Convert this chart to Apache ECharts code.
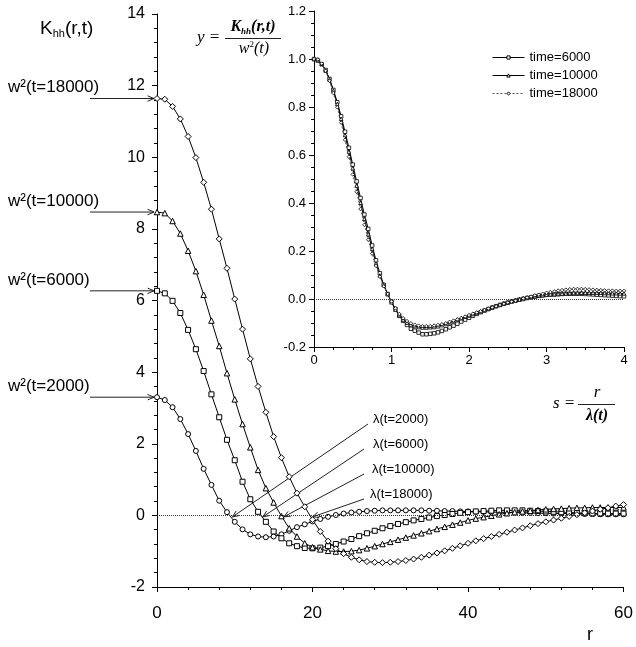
<!DOCTYPE html>
<html>
<head>
<meta charset="utf-8">
<script src="https://cdn.jsdelivr.net/npm/echarts@6/dist/echarts.min.js"></script>
<style>
  html, body { margin: 0; padding: 0; background: #fff; }
  #chart { width: 636px; height: 647px; }
</style>
</head>
<body>
<div id="chart"></div>
<script>
// main panel: K_hh(r,t) against r, one point per unit of r
const rValues = Array.from({ length: 61 }, (_, i) => i);
const k2000 = [3.30, 3.22, 3.02, 2.69, 2.27, 1.80, 1.30, 0.85, 0.41, 0.09, -0.18, -0.39, -0.53, -0.59, -0.61, -0.59, -0.53, -0.43, -0.33, -0.25, -0.17, -0.10, -0.04, 0.01, 0.05, 0.08, 0.10, 0.12, 0.13, 0.14, 0.14, 0.14, 0.14, 0.14, 0.14, 0.13, 0.13, 0.12, 0.12, 0.11, 0.11, 0.10, 0.10, 0.09, 0.09, 0.08, 0.08, 0.07, 0.07, 0.06, 0.06, 0.05, 0.05, 0.05, 0.04, 0.04, 0.04, 0.03, 0.03, 0.03, 0.03];
const k6000 = [6.27, 6.20, 5.99, 5.65, 5.18, 4.64, 4.03, 3.38, 2.74, 2.11, 1.54, 0.94, 0.45, 0.10, -0.18, -0.45, -0.64, -0.78, -0.86, -0.91, -0.92, -0.90, -0.86, -0.80, -0.73, -0.66, -0.58, -0.50, -0.43, -0.36, -0.30, -0.24, -0.19, -0.14, -0.10, -0.06, -0.02, 0.01, 0.04, 0.07, 0.09, 0.11, 0.12, 0.13, 0.14, 0.14, 0.14, 0.14, 0.13, 0.12, 0.11, 0.10, 0.09, 0.08, 0.07, 0.06, 0.05, 0.05, 0.05, 0.05, 0.05];
const k10000 = [8.47, 8.44, 8.22, 7.87, 7.39, 6.82, 6.16, 5.44, 4.73, 3.97, 3.24, 2.55, 1.90, 1.27, 0.76, 0.36, -0.02, -0.36, -0.59, -0.78, -0.89, -0.95, -0.99, -1.01, -1.01, -1.00, -0.97, -0.92, -0.86, -0.80, -0.74, -0.68, -0.62, -0.56, -0.50, -0.44, -0.38, -0.32, -0.26, -0.20, -0.14, -0.09, -0.05, -0.01, 0.03, 0.06, 0.09, 0.11, 0.13, 0.15, 0.17, 0.18, 0.19, 0.20, 0.21, 0.21, 0.22, 0.22, 0.22, 0.22, 0.22];
const k18000 = [11.64, 11.62, 11.42, 11.07, 10.58, 9.99, 9.30, 8.55, 7.72, 6.90, 6.04, 5.20, 4.37, 3.60, 2.88, 2.20, 1.61, 1.08, 0.62, 0.24, -0.12, -0.45, -0.72, -0.93, -1.07, -1.17, -1.24, -1.29, -1.31, -1.32, -1.31, -1.29, -1.26, -1.22, -1.17, -1.11, -1.05, -0.99, -0.92, -0.85, -0.78, -0.71, -0.65, -0.59, -0.53, -0.47, -0.41, -0.35, -0.29, -0.23, -0.18, -0.13, -0.08, -0.03, 0.02, 0.07, 0.12, 0.17, 0.21, 0.26, 0.30];
const w2Labels = ['w²(t=2000)', 'w²(t=6000)', 'w²(t=10000)', 'w²(t=18000)'];
const lambdaValues = [9.7, 13.6, 16.3, 20.0];
const lambdaLabels = ['λ(t=2000)', 'λ(t=6000)', 'λ(t=10000)', 'λ(t=18000)'];

// inset: y = K/w² against s = r/λ, step 0.05
const sValues = Array.from({ length: 81 }, (_, i) => i * 0.05);
const y6000 = [1.000, 0.993, 0.978, 0.954, 0.917, 0.871, 0.820, 0.761, 0.697, 0.630, 0.560, 0.490, 0.421, 0.352, 0.292, 0.223, 0.161, 0.107, 0.059, 0.021, -0.011, -0.041, -0.070, -0.091, -0.108, -0.124, -0.132, -0.140, -0.147, -0.147, -0.145, -0.143, -0.139, -0.133, -0.126, -0.118, -0.111, -0.103, -0.094, -0.086, -0.078, -0.070, -0.062, -0.055, -0.048, -0.042, -0.036, -0.030, -0.025, -0.020, -0.016, -0.011, -0.007, -0.003, 0.000, 0.004, 0.007, 0.010, 0.013, 0.015, 0.017, 0.018, 0.019, 0.020, 0.021, 0.022, 0.022, 0.022, 0.022, 0.022, 0.021, 0.020, 0.019, 0.018, 0.017, 0.016, 0.015, 0.014, 0.013, 0.012, 0.011];
const y10000 = [1.000, 0.998, 0.980, 0.952, 0.915, 0.868, 0.813, 0.751, 0.683, 0.614, 0.545, 0.472, 0.401, 0.334, 0.270, 0.209, 0.148, 0.098, 0.058, 0.020, -0.014, -0.045, -0.067, -0.086, -0.099, -0.108, -0.113, -0.117, -0.119, -0.119, -0.118, -0.117, -0.114, -0.109, -0.104, -0.098, -0.092, -0.086, -0.080, -0.074, -0.069, -0.063, -0.058, -0.052, -0.046, -0.040, -0.034, -0.029, -0.023, -0.017, -0.012, -0.008, -0.004, 0.000, 0.004, 0.007, 0.009, 0.012, 0.014, 0.016, 0.018, 0.019, 0.020, 0.021, 0.022, 0.023, 0.024, 0.025, 0.025, 0.026, 0.026, 0.026, 0.026, 0.026, 0.026, 0.025, 0.025, 0.024, 0.024, 0.023, 0.023];
const y18000 = [1.000, 0.998, 0.981, 0.951, 0.909, 0.858, 0.799, 0.735, 0.663, 0.593, 0.519, 0.447, 0.375, 0.309, 0.247, 0.189, 0.138, 0.093, 0.053, 0.021, -0.010, -0.039, -0.062, -0.080, -0.092, -0.101, -0.107, -0.111, -0.113, -0.113, -0.113, -0.111, -0.108, -0.105, -0.101, -0.095, -0.090, -0.085, -0.079, -0.073, -0.067, -0.061, -0.056, -0.051, -0.046, -0.040, -0.035, -0.030, -0.025, -0.020, -0.015, -0.011, -0.007, -0.003, 0.002, 0.006, 0.010, 0.015, 0.018, 0.022, 0.026, 0.029, 0.032, 0.035, 0.037, 0.039, 0.041, 0.042, 0.042, 0.042, 0.041, 0.040, 0.039, 0.038, 0.037, 0.036, 0.035, 0.035, 0.034, 0.034, 0.034];
const insetNames = ['time=6000', 'time=10000', 'time=18000'];

const SANS = "'Liberation Sans', Arial, sans-serif";
const SERIF = "'Liberation Serif', 'Times New Roman', serif";

const chart = echarts.init(document.getElementById('chart'));

function mainSeries(name, values, symbol, size) {
  return {
    name, type: 'line', xAxisIndex: 0, yAxisIndex: 0,
    data: rValues.map((r, i) => [r, values[i]]),
    symbol, symbolSize: size,
    lineStyle: { color: '#000', width: 1 },
    itemStyle: { color: '#fff', borderColor: '#000', borderWidth: 1 },
    z: 3,
  };
}

function insetSeries(name, values, symbol, lineStyle) {
  return {
    name, type: 'line', xAxisIndex: 1, yAxisIndex: 1,
    data: sValues.map((s, i) => [s, values[i]]),
    symbol, symbolSize: 3.5,
    lineStyle,
    itemStyle: { color: '#fff', borderColor: '#000', borderWidth: 0.8 },
    z: 3,
  };
}

function axisCommon(extra) {
  return Object.assign({
    type: 'value',
    axisLine: { show: true, onZero: false, lineStyle: { color: '#000', width: 1 } },
    axisTick: { show: true, length: 5, lineStyle: { color: '#000' } },
    splitLine: { show: false },
    minorSplitLine: { show: false },
  }, extra);
}

const minor = (n) => ({ show: true, splitNumber: n, length: 3, lineStyle: { color: '#000' } });

const zeroLine = {
  silent: true, symbol: 'none', label: { show: false },
  lineStyle: { type: 'dotted', color: '#333', width: 1 },
  data: [{ yAxis: 0 }],
};

const s2000 = mainSeries('m2000', k2000, 'circle', 5);
s2000.markLine = zeroLine;
const i6000 = insetSeries(insetNames[0], y6000, 'rect', { color: '#000', width: 1 });
i6000.markLine = zeroLine;

chart.setOption({
  animation: false,
  backgroundColor: '#fff',
  grid: [
    { left: 157, right: 11, top: 14, bottom: 60 },
    { left: 314, top: 11, width: 310, height: 336 },
  ],
  xAxis: [
    axisCommon({ gridIndex: 0, min: 0, max: 60, interval: 20, minorTick: minor(5),
      axisLabel: { fontSize: 17, margin: 18, color: '#000', fontFamily: SANS } }),
    axisCommon({ gridIndex: 1, min: 0, max: 4, interval: 1, minorTick: minor(4),
      axisLabel: { fontSize: 13, margin: 7, color: '#000', fontFamily: SANS } }),
  ],
  yAxis: [
    axisCommon({ gridIndex: 0, min: -2, max: 14, interval: 2, minorTick: minor(5),
      axisLabel: { fontSize: 16, margin: 12, color: '#000', fontFamily: SANS } }),
    axisCommon({ gridIndex: 1, min: -0.2, max: 1.2, interval: 0.2, minorTick: minor(4),
      axisLabel: { fontSize: 13, margin: 8, color: '#000', fontFamily: SANS, formatter: (v) => v.toFixed(1) } }),
  ],
  legend: {
    data: insetNames, orient: 'vertical', left: 487, top: 46,
    itemWidth: 32, itemHeight: 4, itemGap: 5,
    itemStyle: { color: '#fff', borderColor: '#000', borderWidth: 1 },
    lineStyle: { width: 1 },
    textStyle: { fontSize: 13, color: '#000', fontFamily: SANS },
  },
  series: [
    s2000,
    mainSeries('m6000', k6000, 'rect', 5),
    mainSeries('m10000', k10000, 'triangle', 5.5),
    mainSeries('m18000', k18000, 'diamond', 6),
    i6000,
    insetSeries(insetNames[1], y10000, 'triangle', { color: '#000', width: 1 }),
    insetSeries(insetNames[2], y18000, 'diamond', { color: '#555', width: 1, type: [2, 2] }),
  ],
});

// annotations placed from the data scales
const toPx = (x, y) => chart.convertToPixel({ gridIndex: 0 }, [x, y]);
const graphics = [];

function line(a, b) {
  graphics.push({ type: 'line', silent: true, shape: { x1: a[0], y1: a[1], x2: b[0], y2: b[1] }, style: { stroke: '#222', lineWidth: 1 } });
}
function arrow(from, tip) {
  line(from, tip);
  const dx = from[0] - tip[0], dy = from[1] - tip[1];
  const len = Math.hypot(dx, dy), ux = dx / len, uy = dy / len;
  const h = 7, t = 0.4, c = Math.cos(t), s = Math.sin(t);
  const p1 = [tip[0] + h * (ux * c - uy * s), tip[1] + h * (ux * s + uy * c)];
  const p2 = [tip[0] + h * (ux * c + uy * s), tip[1] + h * (-ux * s + uy * c)];
  graphics.push({ type: 'polyline', silent: true, shape: { points: [p1, tip, p2] }, style: { stroke: '#222', lineWidth: 1, fill: null } });
}
function text(x, y, str, opts) {
  graphics.push({
    type: 'text', silent: true, x, y,
    style: Object.assign({ text: str, fill: '#000', fontSize: 16, fontFamily: SANS, align: 'left', verticalAlign: 'middle', textAlign: 'left', textVerticalAlign: 'middle' }, opts),
  });
}

[k2000, k6000, k10000, k18000].forEach((arr, i) => {
  const p = toPx(0, arr[0]);
  arrow([90, p[1]], [p[0] - 3, p[1]]);
  text(8, p[1] - 11, w2Labels[i], { fontSize: 17 });
});

const lambdaTails = [[368, 424], [364, 449], [364, 474], [364, 499]];
const lambdaText = [[373, 419], [373, 444], [372, 469], [370, 494]];
lambdaValues.forEach((lam, i) => {
  const p = toPx(lam, 0);
  arrow(lambdaTails[i], [p[0], p[1] + 1.5]);
  text(lambdaText[i][0], lambdaText[i][1], lambdaLabels[i], { fontSize: 13 });
});

// title and axis name
text(40, 29, '{k|K}{s|hh}{k|(r,t)}', {
  rich: { k: { fontSize: 19, fontFamily: SANS, lineHeight: 21, verticalAlign: 'middle' }, s: { fontSize: 11, fontFamily: SANS, lineHeight: 8, verticalAlign: 'bottom' } },
});
text(590, 635, 'r', { fontSize: 18, align: 'center', textAlign: 'center' });

// formula y = K_hh(r,t) / w²(t)
text(197, 38, 'y =', { fontSize: 17, fontFamily: SERIF, fontStyle: 'italic' });
text(253, 27, '{k|K}{s|hh}{k|(r,t)}', {
  align: 'center', textAlign: 'center',
  rich: { k: { fontSize: 16, fontFamily: SERIF, fontStyle: 'italic', fontWeight: 'bold', lineHeight: 18 }, s: { fontSize: 9, fontFamily: SERIF, fontStyle: 'italic', fontWeight: 'bold', lineHeight: 8, verticalAlign: 'bottom' } },
});
line([225, 38.5], [281, 38.5]);
text(254, 49, '{k|w}{p|2}{k|(t)}', {
  align: 'center', textAlign: 'center',
  rich: { k: { fontSize: 16, fontFamily: SERIF, fontStyle: 'italic', lineHeight: 18 }, p: { fontSize: 9, fontFamily: SERIF, lineHeight: 8, verticalAlign: 'top' } },
});

// formula s = r / λ(t)
text(553, 404, 's =', { fontSize: 17, fontFamily: SERIF, fontStyle: 'italic' });
text(597, 393, 'r', { fontSize: 17, fontFamily: SERIF, fontStyle: 'italic', align: 'center', textAlign: 'center' });
line([578, 404.5], [615, 404.5]);
text(597, 416, 'λ(t)', { fontSize: 16, fontFamily: SERIF, fontStyle: 'italic', fontWeight: 'bold', align: 'center', textAlign: 'center' });

chart.setOption({ graphic: graphics });
</script>
</body>
</html>
